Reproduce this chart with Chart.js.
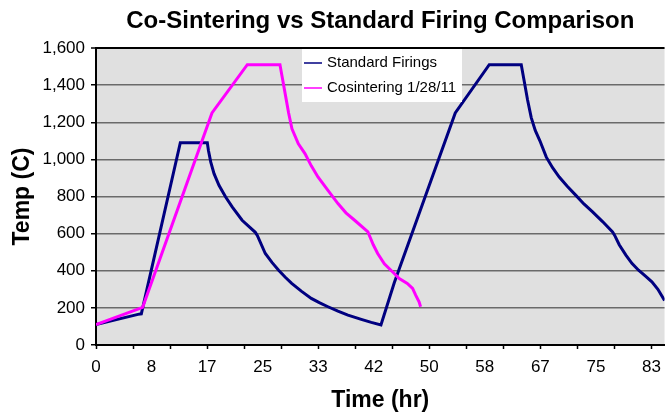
<!DOCTYPE html>
<html>
<head>
<meta charset="utf-8">
<script src="https://cdn.jsdelivr.net/npm/chart.js@4.4.1/dist/chart.umd.min.js"></script>
<style>
  html, body { margin: 0; padding: 0; background: #fff; overflow: hidden; }
  #wrap { width: 669px; height: 418px; }
</style>
</head>
<body>
<div id="wrap"><canvas id="firingChart" width="669" height="418"></canvas></div>
<script>
// Datos (tiempo en horas, temperatura en °C)
const stdTime = [0, 6.3, 6.8, 12.65, 16.7, 16.87, 17.22, 17.71, 18.45, 19.45, 20.43, 21.92, 23.9, 24.2, 25.4, 26.4, 27.4, 28.4, 29.36,
  30.8, 32.3, 33.5, 34.8, 36.3, 37.8, 39.8, 41.3, 42.75,
  44.75, 53.9, 59.0, 63.8, 64.2, 64.75, 65.3, 65.9, 66.6, 67.56, 68.5, 69.5, 70.7, 72.0, 73.2, 74.5, 76.0, 77.5, 77.8, 78.5, 79.5,
  80.4, 81.4, 82.4, 83.4, 84.3, 85.3];
const stdTemp = [110, 165, 168, 1090, 1090, 1048, 985, 923, 860, 797, 744, 672, 607, 590, 493, 445, 403, 365, 332,
  290, 251, 228, 206, 182, 161, 138, 122, 108,
  335, 1250, 1510, 1510, 1430, 1320, 1225, 1156, 1100, 1012, 955, 905, 855, 806, 760, 717, 665, 609, 592, 540, 484,
  440, 403, 372, 340, 300, 240];

const coTime = [0, 7.0, 17.4, 22.7, 27.6, 28.0, 28.5, 28.9, 29.4, 30.36, 31.35, 32.3, 33.3, 34.8, 36.3, 37.5, 38.8, 40.8, 41.0,
  41.6, 42.26, 43.26, 44.75, 45.5, 46.7, 47.5, 47.96, 48.47, 48.7];
const coTemp = [110, 203, 1250, 1510, 1510, 1430, 1330, 1250, 1165, 1084, 1031, 965, 905, 833, 762, 712, 672, 609, 591,
  540, 493, 437, 385, 358, 332, 305, 269, 233, 206];

const seriesLabels = ["Standard Firings", "Cosintering 1/28/11"];
const seriesColors = ["#000080", "#FF00FF"];

// Etiquetas del eje X (cada 25/3 h) y marcas menores (cada 50/9 h)
const xTickLabels = ["0", "8", "17", "25", "33", "42", "50", "58", "67", "75", "83"];
const xLabelStep = 25 / 3;
const xMarkStep = 50 / 9;
const xMax = 85.3;
const yTicks = [0, 200, 400, 600, 800, 1000, 1200, 1400, 1600];

const fontFam = "'Liberation Sans', Arial, sans-serif";

function toPoints(xs, ys) {
  return xs.map((x, i) => ({ x: x, y: ys[i] }));
}

function isMultiple(v, step) {
  const k = Math.round(v / step);
  return Math.abs(k * step - v) < 1e-6;
}

// Fondo gris del área de trazado
const plotBackground = {
  id: "plotBackground",
  beforeDraw(chart) {
    const { ctx, chartArea } = chart;
    ctx.save();
    ctx.fillStyle = "#E0E0E0";
    ctx.fillRect(chartArea.left, chartArea.top, chartArea.right - chartArea.left, chartArea.bottom - chartArea.top);
    ctx.restore();
  }
};

// Leyenda tipo Excel dentro del área de trazado
const boxLegend = {
  id: "boxLegend",
  afterDraw(chart) {
    const { ctx, chartArea } = chart;
    const sets = chart.data.datasets;
    ctx.save();
    ctx.font = "15px " + fontFam;
    const textW = Math.max(...sets.map(d => ctx.measureText(d.label).width));
    const boxW = 25 + textW + 6;
    const rowH = 25;
    const boxH = 53;
    const cx = (chartArea.left + chartArea.right) / 2;
    const x0 = Math.round(cx - boxW / 2) + 2;
    const y0 = chartArea.top + 1;
    ctx.fillStyle = "#FFFFFF";
    ctx.fillRect(x0, y0, boxW, boxH);
    sets.forEach((d, i) => {
      const y = y0 + 14 + i * rowH;
      ctx.strokeStyle = d.borderColor;
      ctx.lineWidth = 1.5;
      ctx.beginPath();
      ctx.moveTo(x0 + 2, y);
      ctx.lineTo(x0 + 20, y);
      ctx.stroke();
      ctx.fillStyle = "#000";
      ctx.textBaseline = "middle";
      ctx.textAlign = "left";
      ctx.fillText(d.label, x0 + 25, y);
    });
    ctx.restore();
  }
};

const ctx = document.getElementById("firingChart").getContext("2d");
new Chart(ctx, {
  type: "line",
  data: {
    datasets: [
      {
        label: seriesLabels[0],
        data: toPoints(stdTime, stdTemp),
        borderColor: seriesColors[0],
        backgroundColor: seriesColors[0],
        borderWidth: 3,
        pointRadius: 0,
        tension: 0,
        order: 1
      },
      {
        label: seriesLabels[1],
        data: toPoints(coTime, coTemp),
        borderColor: seriesColors[1],
        backgroundColor: seriesColors[1],
        borderWidth: 3,
        pointRadius: 0,
        tension: 0,
        order: 0
      }
    ]
  },
  options: {
    responsive: false,
    animation: false,
    devicePixelRatio: 1,
    events: [],
    layout: { padding: 0 },
    plugins: {
      legend: { display: false },
      tooltip: { enabled: false },
      title: {
        display: true,
        text: "Co-Sintering vs Standard Firing Comparison",
        fullSize: false,
        color: "#000",
        font: { family: fontFam, size: 24, weight: "bold" },
        padding: { top: 7.4, bottom: 11.8 }
      }
    },
    scales: {
      x: {
        type: "linear",
        min: 0,
        max: xMax,
        afterFit: scale => { scale.height = 73; },
        afterBuildTicks: scale => {
          const vals = [];
          for (let i = 0; i * xMarkStep <= xMax + 1e-9; i++) vals.push(i * xMarkStep);
          for (let i = 0; i < xTickLabels.length; i++) {
            const v = i * xLabelStep;
            if (!vals.some(u => Math.abs(u - v) < 1e-6)) vals.push(v);
          }
          vals.sort((a, b) => a - b);
          scale.ticks = vals.map(v => ({ value: v }));
        },
        ticks: {
          autoSkip: false,
          maxRotation: 0,
          padding: 8,
          color: "#000",
          font: { family: fontFam, size: 17 },
          callback: value => {
            if (!isMultiple(value, xLabelStep)) return "";
            return xTickLabels[Math.round(value / xLabelStep)] || "";
          }
        },
        grid: {
          drawOnChartArea: false,
          drawTicks: true,
          tickLength: 4,
          tickWidth: 1.5,
          tickColor: c => (c.tick && isMultiple(c.tick.value, xMarkStep)) ? "#000" : "rgba(0,0,0,0)"
        },
        border: { display: true, color: "#000", width: 2 },
        title: {
          display: true,
          text: "Time (hr)",
          color: "#000",
          font: { family: fontFam, size: 23, weight: "bold" },
          padding: { top: 0, bottom: 4 }
        }
      },
      y: {
        min: 0,
        max: 1600,
        afterFit: scale => { scale.width = 96; },
        afterBuildTicks: scale => { scale.ticks = yTicks.map(v => ({ value: v })); },
        ticks: {
          padding: 6,
          color: "#000",
          font: { family: fontFam, size: 17 },
          callback: value => value.toLocaleString("en-US")
        },
        grid: {
          color: c => (c.tick && (c.tick.value === 1600 || c.tick.value === 0)) ? "#000" : "#6a6a6a",
          lineWidth: c => (c.tick && c.tick.value === 1600) ? 2 : 1.5,
          drawTicks: true,
          tickLength: 5,
          tickColor: "#000",
          tickWidth: 1.5
        },
        border: { display: true, color: "#000", width: 2 },
        title: {
          display: true,
          text: "Temp (C)",
          color: "#000",
          font: { family: fontFam, size: 23, weight: "bold" },
          padding: { top: 9, bottom: 0 }
        }
      }
    }
  },
  plugins: [plotBackground, boxLegend]
});
</script>
</body>
</html>
